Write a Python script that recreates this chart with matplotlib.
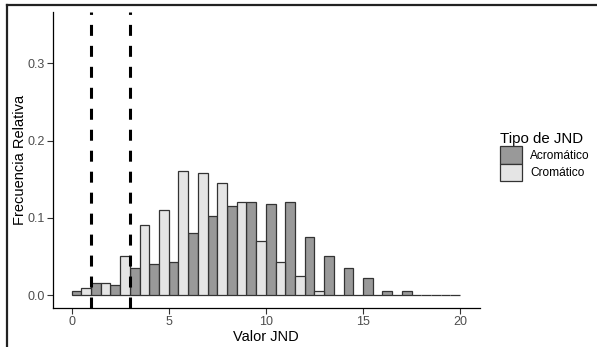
import matplotlib
matplotlib.use("Agg")
import matplotlib.pyplot as plt
from matplotlib.lines import Line2D
import numpy as np

plt.rcParams['font.family'] = ['Liberation Sans', 'DejaVu Sans']
plt.rcParams['lines.scale_dashes'] = False

bin_left = list(range(20))
acromatico = [0.005, 0.016, 0.013, 0.035, 0.040, 0.043, 0.080, 0.102, 0.115, 0.120,
              0.118, 0.120, 0.075, 0.051, 0.035, 0.022, 0.005, 0.005, 0.0, 0.0]
cromatico = [0.0087, 0.016, 0.051, 0.091, 0.110, 0.161, 0.158, 0.145, 0.120, 0.070,
             0.043, 0.024, 0.005, 0.0, 0.0, 0.0, 0.0, 0.0, 0.0, 0.0]
vlines = [1, 3]
xticks = [0, 5, 10, 15, 20]
yticks = [0.0, 0.1, 0.2, 0.3]
series_names = ["Acromático", "Cromático"]

W, H = 597, 347
fig = plt.figure(figsize=(W/100, H/100), dpi=100)
l, r, t, b = 53, 479.5, 12.3, 308.3
ax = fig.add_axes([l/W, 1-b/H, (r-l)/W, (b-t)/H])

edge = "#333333"
x = np.array(bin_left, dtype=float)
h1 = ax.bar(x, acromatico, width=0.5, align='edge', color="#999999", edgecolor=edge, linewidth=0.9, label=series_names[0])
h2 = ax.bar(x+0.5, cromatico, width=0.5, align='edge', color="#E5E5E5", edgecolor=edge, linewidth=0.9, label=series_names[1])

ylo, yhi = -0.0172, 0.366
ax.set_xlim(-0.96, 21)
ax.set_ylim(ylo, yhi)
for v in vlines:
    ax.plot([v, v], [ylo, yhi], color="black", linewidth=2.2, linestyle=(0, (7.9, 7.2)), solid_capstyle='butt', dash_capstyle='butt', zorder=5)

ax.set_xticks(xticks)
ax.set_xticklabels([str(v) for v in xticks])
ax.set_yticks(yticks)
ax.set_yticklabels([f"{v:.1f}" for v in yticks])
for s in ['top', 'right']:
    ax.spines[s].set_visible(False)
for s in ['left', 'bottom']:
    ax.spines[s].set_linewidth(0.9)
    ax.spines[s].set_color("black")
ax.tick_params(axis='both', labelsize=9, labelcolor="#4D4D4D", color="#333333", length=4, width=0.8, pad=2.0)
ax.tick_params(axis='x', pad=1.5)
ax.set_xlabel("Valor JND", fontsize=10.5, color="black")
ax.set_ylabel("Frecuencia Relativa", fontsize=10.5, color="black")
ax.yaxis.set_label_coords(-0.077, 0.5)
ax.xaxis.set_label_coords(0.5, -0.096)
ax.xaxis.label.set_va('center')
ax.yaxis.label.set_va('center')

leg = ax.legend(handles=[h1, h2], title="Tipo de JND", loc='upper left',
                bbox_to_anchor=(500/W, 1-132/H), bbox_transform=fig.transFigure,
                frameon=False, fontsize=8.6, title_fontsize=10.8, borderpad=0,
                handlelength=1.85, handleheight=1.85, labelspacing=0.02,
                handletextpad=0.7, alignment='left', borderaxespad=0)

# outer border lines (top and left)
fig.add_artist(Line2D([7/W, 1], [1-5/H, 1-5/H], transform=fig.transFigure, color="#222222", linewidth=1.6))
fig.add_artist(Line2D([7/W, 7/W], [0, 1-5/H], transform=fig.transFigure, color="#222222", linewidth=1.6))

fig.savefig("out.png", dpi=100)
